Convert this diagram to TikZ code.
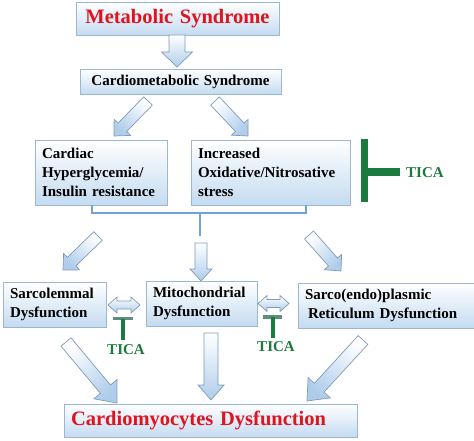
\documentclass[tikz,border=0pt]{standalone}
\usepackage{fontspec}
\setmainfont{Liberation Serif}
\usetikzlibrary{calc}
\definecolor{boxblue}{HTML}{C4DBF1}
\definecolor{edgeblue}{HTML}{9DB7D1}
\definecolor{arrowblue}{HTML}{AFCDEB}
\definecolor{arrowedge}{HTML}{7E9BB8}
\definecolor{mred}{HTML}{E0141E}
\definecolor{tgreen}{HTML}{1B7A3E}
\definecolor{tbar}{HTML}{5E8C7E}
\definecolor{bracketblue}{HTML}{6FA3D6}
% #1 tail, #2 tip, #3 shading angle, #4 half shaft, #5 half head, #6 head length
\newcommand\blockarrow[6]{%
  \coordinate (hh) at ($(#2)!#6!(#1)$);
  \shade[arrowsty, top color=arrowblue, bottom color=white, shading angle=#3]
    ($(#1)!#4!90:(#2)$) -- ($(hh)!#4!-90:(#1)$) -- ($(hh)!#5!-90:(#1)$) -- (#2)
    -- ($(hh)!#5!90:(#1)$) -- ($(hh)!#4!90:(#1)$) -- ($(#1)!#4!-90:(#2)$) -- cycle;}
% horizontal double arrow between #1 (left tip) and #2 (right tip)
\newcommand\dblarrow[2]{%
  \shade[arrowsty, top color=white, bottom color=arrowblue]
    (#1) -- ($(#1)+(9,-8)$) -- ($(#1)+(9,-4)$) -- ($(#2)+(-9,-4)$) -- ($(#2)+(-9,-8)$)
    -- (#2) -- ($(#2)+(-9,8)$) -- ($(#2)+(-9,4)$) -- ($(#1)+(9,4)$) -- ($(#1)+(9,8)$) -- cycle;}
\begin{document}
\begin{tikzpicture}[x=1pt,y=-1pt,
  box/.style={draw=edgeblue, line width=0.8pt, top color=white, bottom color=boxblue,
    inner xsep=7pt, inner ysep=0pt, align=left,
    font=\bfseries\fontsize{15}{19}\selectfont},
  redtext/.style={text=mred, font=\bfseries\fontsize{20.5}{24}\selectfont},
  arrowsty/.style={draw=arrowedge, line width=0.7pt, line join=miter},
  ticatext/.style={text=tgreen, font=\bfseries\fontsize{15}{18}\selectfont, inner sep=0pt}]
\useasboundingbox (0,0) rectangle (474,441);

% boxes
\node[box, redtext, text width=189pt, minimum height=33pt, align=center] (ms) at (177.5,18.5) {Metabolic Syndrome};
\node[box, text width=187pt, minimum height=25pt, align=center] (cms) at (180.5,81.5) {Cardiometabolic Syndrome};
\node[box, text width=118pt, minimum height=65pt] (chg) at (101,172.5) {Cardiac\\Hyperglycemia/\\Insulin resistance};
\node[box, text width=145pt, minimum height=65pt] (ons) at (270.5,172.5) {Increased\\Oxidative/Nitrosative\\stress};
\node[box, text width=89pt, minimum height=45pt] (sd) at (54.5,304.5) {Sarcolemmal\\Dysfunction};
\node[box, text width=97pt, minimum height=45pt] (md) at (201.5,303.5) {Mitochondrial\\Dysfunction};
\node[box, text width=162pt, minimum height=45pt] (srd) at (386,305.5) {Sarco(endo)plasmic\\\hspace*{3pt}Reticulum Dysfunction};
\node[box, redtext, text width=279pt, minimum height=33pt] (cd) at (210.5,420.5) {Cardiomyocytes Dysfunction};

% arrow end points
\coordinate (a1t) at (177,35);  \coordinate (a1h) at (177,67);
\coordinate (a2t) at (148,101); \coordinate (a2h) at (114,136);
\coordinate (a3t) at (215,101); \coordinate (a3h) at (248,136);
\coordinate (a4t) at (98,236);  \coordinate (a4h) at (63,270);
\coordinate (a5t) at (201,243); \coordinate (a5h) at (201,281);
\coordinate (a6t) at (309,235); \coordinate (a6h) at (341,271);
\coordinate (a7t) at (66,342);  \coordinate (a7h) at (117,403);
\coordinate (a8t) at (211,333); \coordinate (a8h) at (211,400);
\coordinate (a9t) at (363,340); \coordinate (a9h) at (307,401);

\blockarrow{a1t}{a1h}{180}{8pt}{15.5pt}{15pt}
\blockarrow{a2t}{a2h}{135}{6pt}{11.5pt}{12pt}
\blockarrow{a3t}{a3h}{225}{6pt}{11.5pt}{12pt}
\blockarrow{a4t}{a4h}{135}{6pt}{11.5pt}{12pt}
\blockarrow{a5t}{a5h}{180}{6pt}{11pt}{12pt}
\blockarrow{a6t}{a6h}{225}{6pt}{11.5pt}{12pt}
\blockarrow{a7t}{a7h}{220}{6.5pt}{15pt}{18pt}
\blockarrow{a8t}{a8h}{180}{7pt}{13pt}{15pt}
\blockarrow{a9t}{a9h}{136}{6.5pt}{15pt}{18pt}

% bracket
\coordinate (bl) at (92,205); \coordinate (br) at (306,205);
\coordinate (bm) at (200,213); \coordinate (bs) at (200,236);
\draw[bracketblue, line width=2.8pt] (bl) |- (bm) -| (br);
\draw[bracketblue, line width=2.8pt] (bm) -- (bs);

% double arrows
\coordinate (d1l) at (108,305); \coordinate (d1r) at (140,305);
\coordinate (d2l) at (258,303.5); \coordinate (d2r) at (289,303.5);
\dblarrow{d1l}{d1r}
\dblarrow{d2l}{d2r}

% big TICA inhibitor
\coordinate (tv1) at (364.5,139); \coordinate (tv2) at (364.5,202);
\coordinate (th) at (400,172.5);
\draw[tgreen, line width=7pt] (tv1) -- (tv2);
\draw[tgreen, line width=8pt] (th) -- (tv1 |- th);
\node[ticatext, anchor=west] (tica1) at (406,172.5) {TICA};

% small TICA inhibitors
\coordinate (s1a) at (113,318.5); \coordinate (s1b) at (133,318.5);
\coordinate (s1c) at (123,318.5); \coordinate (s1d) at (123,340);
\draw[tbar, line width=3.5pt] (s1a) -- (s1b);
\draw[tgreen, line width=4pt] (s1c) -- (s1d);
\node[ticatext] (tica2) at (126,350) {TICA};

\coordinate (s2a) at (263,317); \coordinate (s2b) at (282,317);
\coordinate (s2c) at (273,317); \coordinate (s2d) at (273,338);
\draw[tbar, line width=4pt] (s2a) -- (s2b);
\draw[tgreen, line width=4.5pt] (s2c) -- (s2d);
\node[ticatext] (tica3) at (276,347) {TICA};
\end{tikzpicture}
\end{document}
